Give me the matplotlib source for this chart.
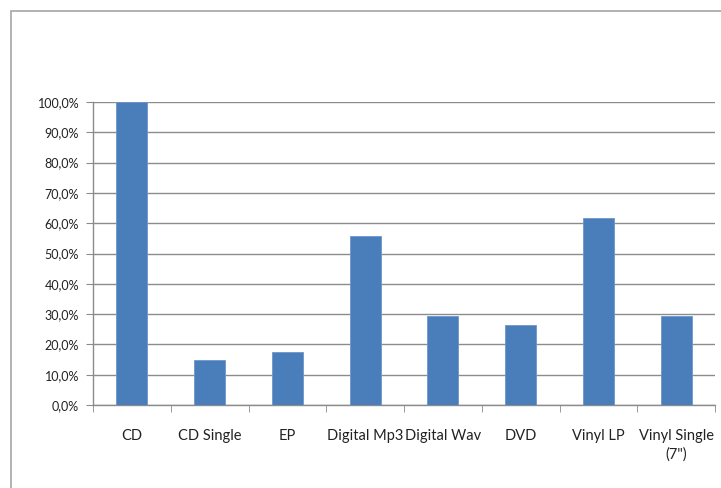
import matplotlib.pyplot as plt
import numpy as np
from matplotlib.patches import Rectangle
from matplotlib.ticker import FuncFormatter, MultipleLocator

plt.rcParams["font.family"] = ["Lato", "DejaVu Sans"]

categories = ["CD", "CD Single", "EP", "Digital Mp3", "Digital Wav", "DVD", "Vinyl LP", "Vinyl Single\n(7\")"]
shares = [100.0, 14.7, 17.6, 55.9, 29.4, 26.5, 61.8, 29.4]

BAR_COLOR = "#4A7EBB"
GRID_COLOR = "#8C8C8C"

fig = plt.figure(figsize=(7.21, 4.88), dpi=100)
fig.patches.append(Rectangle((11 / 721, -0.1), 1.2, 1 - 11 / 488 + 0.1, transform=fig.transFigure,
                             fill=False, edgecolor="#A6A6A6", linewidth=1.2))

ax = fig.add_axes([93 / 721, 1 - 405 / 488, (715 - 93) / 721, (405 - 102) / 488])
x = np.arange(len(categories))
ax.bar(x, shares, width=0.4, color=BAR_COLOR, edgecolor="#6C96CC", linewidth=0.6, zorder=3)

ax.set_xlim(-0.5, len(categories) - 0.5)
ax.set_ylim(0, 100)
ax.yaxis.set_major_locator(MultipleLocator(10))
ax.yaxis.set_major_formatter(FuncFormatter(lambda v, p: f"{v:.1f}%".replace(".", ",")))
ax.grid(axis="y", color=GRID_COLOR, linewidth=1.0, zorder=0)

ax.set_xticks(x)
ax.set_xticklabels(categories, fontsize=10.5, color="#222222", linespacing=1.45)
ax.set_xticks(np.arange(-0.5, len(categories), 1), minor=True)
ax.tick_params(axis="x", which="major", length=0, pad=17)
ax.tick_params(axis="x", which="minor", length=5, color=GRID_COLOR, direction="out")
ax.tick_params(axis="y", length=5, color=GRID_COLOR, labelsize=9, labelcolor="#222222", pad=5)

for side in ["top", "right"]:
    ax.spines[side].set_visible(False)
for side in ["left", "bottom"]:
    ax.spines[side].set_color(GRID_COLOR)
    ax.spines[side].set_linewidth(1.0)

fig.savefig("out.png", dpi=100)
